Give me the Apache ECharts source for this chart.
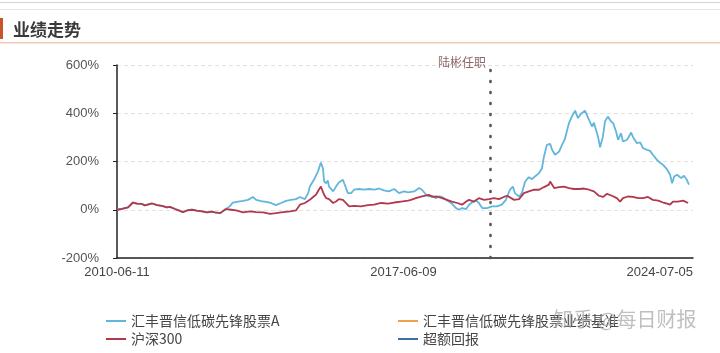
<!DOCTYPE html>
<html>
<head>
<meta charset="utf-8">
<script src="https://cdn.jsdelivr.net/npm/echarts@6/dist/echarts.min.js"></script>
<style>
  html, body { margin: 0; padding: 0; background: #fff; }
  #chart { width: 720px; height: 353px; }
</style>
</head>
<body>
<div id="chart"></div>
<script>
// x 轴用小数年份
const tickLabels = ['2010-06-11', '2017-06-09', '2024-07-05'];
const tickYears = [2010.44, 2017.44, 2024.51];
const tenureYear = 2019.55;

const seriesNames = ['汇丰晋信低碳先锋股票A', '汇丰晋信低碳先锋股票业绩基准', '沪深300', '超额回报'];

const fundYears = [2010.44, 2010.56, 2010.71, 2010.83, 2010.93, 2011.05, 2011.12, 2011.30, 2011.42, 2011.54,
  2011.66, 2011.73, 2011.86, 2011.98, 2012.05, 2012.15, 2012.27, 2012.39, 2012.52, 2012.64,
  2012.76, 2012.83, 2012.96, 2013.10, 2013.20, 2013.27, 2013.40, 2013.52, 2013.64, 2013.76,
  2013.84, 2013.96, 2014.08, 2014.20, 2014.32, 2014.45, 2014.57, 2014.69, 2014.81, 2014.91,
  2015.03, 2015.11, 2015.15, 2015.25, 2015.35, 2015.42, 2015.47, 2015.50, 2015.55, 2015.59,
  2015.62, 2015.72, 2015.79, 2015.86, 2015.96, 2015.99, 2016.08, 2016.16, 2016.23, 2016.35,
  2016.47, 2016.60, 2016.72, 2016.84, 2016.96, 2017.08, 2017.21, 2017.33, 2017.45, 2017.55,
  2017.70, 2017.82, 2017.89, 2017.99, 2018.06, 2018.14, 2018.23, 2018.31, 2018.38, 2018.48,
  2018.55, 2018.62, 2018.72, 2018.79, 2018.87, 2018.97, 2019.04, 2019.11, 2019.21, 2019.28,
  2019.36, 2019.48, 2019.60, 2019.72, 2019.84, 2019.94, 2019.97, 2020.04, 2020.11, 2020.16,
  2020.26, 2020.33, 2020.41, 2020.50, 2020.58, 2020.65, 2020.75, 2020.82, 2020.87, 2020.94,
  2021.02, 2021.07, 2021.14, 2021.24, 2021.31, 2021.38, 2021.48, 2021.55, 2021.63, 2021.70,
  2021.77, 2021.87, 2021.97, 2022.04, 2022.09, 2022.19, 2022.24, 2022.31, 2022.36, 2022.43,
  2022.51, 2022.56, 2022.63, 2022.68, 2022.75, 2022.80, 2022.90, 2023.00, 2023.04, 2023.14,
  2023.22, 2023.29, 2023.39, 2023.46, 2023.53, 2023.63, 2023.70, 2023.78, 2023.88, 2023.95,
  2024.00, 2024.05, 2024.12, 2024.22, 2024.29, 2024.36, 2024.41];
const fundRet = [0, 4, 10, 30, 25, 24, 18, 26, 19, 16,
  10, 12, 3, -5, -10, -3, 0, -4, -7, -11,
  -8, -11, -14, 3, 15, 30, 34, 37, 41, 53,
  41, 36, 33, 28, 19, 28, 37, 41, 44, 53,
  44, 69, 96, 124, 159, 196, 172, 117, 110, 121,
  96, 76, 96, 113, 124, 110, 69, 69, 83, 86,
  83, 86, 83, 88, 80, 76, 86, 69, 76, 72,
  76, 90, 83, 62, 55, 58, 48, 55, 53, 41,
  34, 25, 7, 0, 7, 3, 21, 30, 38, 28,
  7, 7, 14, 14, 21, 41, 55, 83, 96, 69,
  55, 69, 117, 135, 127, 138, 152, 172, 221, 269,
  273, 248, 228, 241, 269, 293, 359, 386, 411, 380,
  397, 411, 373, 345, 361, 303, 259, 303, 366, 386,
  366, 359, 324, 290, 317, 283, 290, 320, 303, 276,
  279, 255, 248, 244, 228, 207, 196, 186, 166, 145,
  110, 138, 145, 131, 141, 124, 104];

const hsYears = [2010.44, 2010.56, 2010.71, 2010.83, 2010.93, 2011.05, 2011.12, 2011.30, 2011.42, 2011.54,
  2011.66, 2011.73, 2011.86, 2011.98, 2012.05, 2012.15, 2012.27, 2012.39, 2012.52, 2012.64,
  2012.76, 2012.83, 2012.96, 2013.10, 2013.23, 2013.35, 2013.52, 2013.69, 2013.84, 2014.01,
  2014.18, 2014.32, 2014.50, 2014.67, 2014.81, 2014.91, 2015.03, 2015.15, 2015.23, 2015.30,
  2015.37, 2015.42, 2015.50, 2015.55, 2015.62, 2015.72, 2015.79, 2015.86, 2015.96, 2016.03,
  2016.11, 2016.23, 2016.40, 2016.57, 2016.72, 2016.89, 2017.06, 2017.21, 2017.38, 2017.55,
  2017.62, 2017.74, 2017.89, 2018.06, 2018.14, 2018.26, 2018.38, 2018.50, 2018.62, 2018.75,
  2018.87, 2018.97, 2019.04, 2019.16, 2019.28, 2019.41, 2019.53, 2019.65, 2019.77, 2019.89,
  2019.97, 2020.14, 2020.26, 2020.38, 2020.50, 2020.63, 2020.75, 2020.87, 2020.99, 2021.02,
  2021.12, 2021.24, 2021.36, 2021.48, 2021.60, 2021.73, 2021.85, 2021.97, 2022.09, 2022.21,
  2022.31, 2022.41, 2022.53, 2022.65, 2022.73, 2022.80, 2022.92, 2023.04, 2023.17, 2023.29,
  2023.41, 2023.53, 2023.66, 2023.78, 2023.88, 2023.95, 2024.02, 2024.14, 2024.27, 2024.39];
const hsRet = [0, 4, 10, 30, 25, 24, 18, 26, 19, 16,
  10, 12, 3, -5, -10, -3, 0, -4, -7, -11,
  -8, -11, -14, 3, 0, -3, -11, -7, -10, -11,
  -17, -14, -10, -7, -3, 21, 28, 41, 53, 62,
  83, 96, 62, 48, 44, 28, 34, 44, 41, 28,
  14, 16, 14, 19, 21, 28, 25, 30, 34, 38,
  41, 48, 55, 62, 53, 55, 48, 41, 34, 28,
  21, 34, 41, 34, 48, 41, 44, 48, 44, 53,
  58, 41, 44, 69, 76, 83, 83, 94, 104, 117,
  90, 94, 96, 90, 86, 86, 88, 83, 76, 58,
  53, 66, 58, 48, 34, 48, 55, 53, 48, 48,
  53, 41, 38, 30, 25, 21, 34, 34, 38, 28];

const colors = ['#62b6dc', '#f0a04b', '#b2384c', '#3e6f9e'];

const pairs = (xs, ys) => xs.map((x, i) => [x, ys[i]]);

const chart = echarts.init(document.getElementById('chart'));

const option = {
  animation: false,
  grid: { left: 117, right: 27, top: 65, bottom: 95 },
  xAxis: {
    type: 'value',
    min: tickYears[0],
    max: tickYears[2],
    axisLine: { onZero: false, lineStyle: { color: '#222', width: 1.5 } },
    axisTick: { show: false },
    splitLine: { show: false },
    axisLabel: {
      customValues: tickYears,
      alignMaxLabel: 'right',
      margin: 8,
      fontSize: 13,
      color: '#444',
      fontFamily: 'Liberation Sans',
      formatter: v => tickLabels[tickYears.indexOf(v)]
    }
  },
  yAxis: {
    type: 'value',
    min: -200,
    max: 600,
    interval: 200,
    axisLine: { show: true, lineStyle: { color: '#222', width: 1.5 } },
    axisTick: { show: true, length: 4, lineStyle: { color: '#222' } },
    splitLine: { lineStyle: { color: '#e2e2e2', type: [4, 3] } },
    axisLabel: {
      formatter: '{value}%',
      fontSize: 13,
      color: '#555',
      margin: 18,
      fontFamily: 'Liberation Sans'
    }
  },
  legend: [
    {
      orient: 'vertical', left: 101, top: 309, itemGap: 4,
      itemWidth: 20, itemHeight: 2, icon: 'rect',
      textStyle: { fontSize: 14, color: '#444', fontFamily: 'Noto Sans CJK SC' },
      data: [seriesNames[0], seriesNames[2]]
    },
    {
      orient: 'vertical', left: 393, top: 309, itemGap: 4,
      itemWidth: 20, itemHeight: 2, icon: 'rect',
      textStyle: { fontSize: 14, color: '#444', fontFamily: 'Noto Sans CJK SC' },
      data: [seriesNames[1], seriesNames[3]]
    }
  ],
  series: [
    {
      name: seriesNames[0], type: 'line', showSymbol: false,
      data: pairs(fundYears, fundRet),
      lineStyle: { width: 1.8, color: colors[0] }, itemStyle: { color: colors[0] },
      markLine: {
        silent: true, symbol: 'none',
        label: { show: false },
        lineStyle: { color: '#555', type: [1, 10], width: 2.6, cap: 'round' },
        data: [{ xAxis: tenureYear }]
      }
    },
    {
      name: seriesNames[1], type: 'line', showSymbol: false, data: [],
      lineStyle: { color: colors[1] }, itemStyle: { color: colors[1] }
    },
    {
      name: seriesNames[2], type: 'line', showSymbol: false,
      data: pairs(hsYears, hsRet),
      lineStyle: { width: 1.8, color: colors[2] }, itemStyle: { color: colors[2] }
    },
    {
      name: seriesNames[3], type: 'line', showSymbol: false, data: [],
      lineStyle: { color: colors[3] }, itemStyle: { color: colors[3] }
    }
  ]
};
chart.setOption(option);

// 页头、任职标注和水印
const tenureX = chart.convertToPixel({ xAxisIndex: 0 }, tenureYear);
const topY = chart.convertToPixel({ yAxisIndex: 0 }, 600);
chart.setOption({
  graphic: [
    { type: 'rect', shape: { x: 0, y: 2, width: 720, height: 1 }, style: { fill: '#d4d4d4' } },
    { type: 'rect', shape: { x: 0, y: 9, width: 720, height: 1 }, style: { fill: '#e4e4e4' } },
    { type: 'rect', shape: { x: 0, y: 18, width: 3, height: 21 }, style: { fill: '#c9542c' } },
    { type: 'rect', shape: { x: 0, y: 42, width: 720, height: 1.5 }, style: { fill: '#f2c9b4' } },
    {
      type: 'text', left: 13, top: 21,
      style: { text: '业绩走势', fontSize: 17, fontWeight: 'bold', fill: '#3a3a3a', fontFamily: 'Noto Sans CJK SC' }
    },
    {
      type: 'text', x: tenureX - 4, y: topY - 3,
      style: { text: '陆彬任职', fontSize: 12, fill: '#8e6868', align: 'right', verticalAlign: 'middle', fontFamily: 'Noto Sans CJK SC' }
    },
    {
      type: 'text', left: 553, top: 309, z: 100,
      style: { text: '知乎 @每日财报', fontSize: 20, fill: 'rgba(170,170,170,0.75)', fontFamily: 'Noto Sans CJK SC' }
    }
  ]
});

window.onresize = function () {
  chart.resize();
};
</script>
</body>
</html>
